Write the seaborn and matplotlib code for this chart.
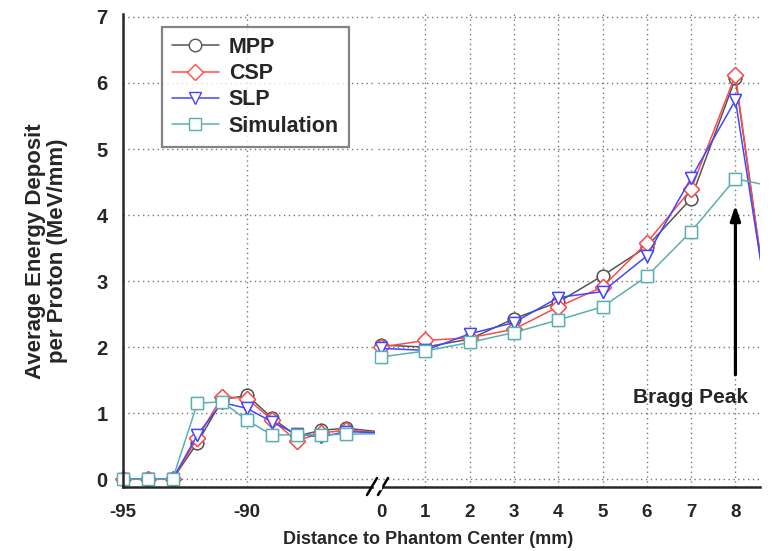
import matplotlib
matplotlib.use("Agg")
import matplotlib.pyplot as plt
import seaborn as sns
import numpy as np

# ---- data ----
left_x = [-95, -94, -93, -92, -91, -90, -89, -88, -87, -86, -84]
mpp_left = [0, 0, 0, 0.55, 1.20, 1.27, 0.93, 0.65, 0.74, 0.77, 0.69]
csp_left = [0, 0, 0, 0.62, 1.25, 1.22, 0.90, 0.58, 0.70, 0.74, 0.69]
slp_left = [0, 0, 0, 0.67, 1.16, 1.07, 0.87, 0.68, 0.64, 0.72, 0.69]
sim_left = [0, 0, 0, 1.15, 1.17, 0.89, 0.67, 0.67, 0.67, 0.68, 0.69]

right_x = [0, 1, 2, 3, 4, 5, 6, 7, 8, 9]
mpp_right = [2.03, 2.00, 2.12, 2.43, 2.68, 3.08, 3.52, 4.25, 6.07, 1.30]
csp_right = [2.00, 2.10, 2.14, 2.27, 2.61, 2.91, 3.58, 4.39, 6.12, 1.20]
slp_right = [1.98, 1.95, 2.20, 2.37, 2.75, 2.84, 3.38, 4.56, 5.74, 1.47]
sim_right = [1.85, 1.94, 2.07, 2.22, 2.41, 2.61, 3.07, 3.75, 4.55, 4.41]

labels = ["MPP", "CSP", "SLP", "Simulation"]
colors = ["#555555", "#ff4a4a", "#4545ff", "#5aafaf"]
markers = ["o", "D", "v", "s"]
msizes = [9, 8, 9, 8]

sns.set_style("white")
plt.rcParams["font.family"] = ["Liberation Sans", "DejaVu Sans"]
plt.rcParams["font.weight"] = "bold"
plt.rcParams["axes.unicode_minus"] = False

fig = plt.figure(figsize=(7.74, 5.51), dpi=100)
W, H = 774.0, 551.0
bot = (H - 487) / H
top = (H - 14) / H
axL = fig.add_axes([123 / W, bot, (375 - 123) / W, top - bot])
axR = fig.add_axes([378 / W, bot, (760 - 378) / W, top - bot])

ylim = (-0.12, 7.045)
left_series = [mpp_left, csp_left, slp_left, sim_left]
right_series = [mpp_right, csp_right, slp_right, sim_right]

for i in range(4):
    mk = dict(marker=markers[i], markersize=msizes[i], markerfacecolor="white",
              markeredgecolor=colors[i], markeredgewidth=1.0)
    # left segment: clipped line + unclipped markers on the visible points
    sns.lineplot(x=left_x, y=left_series[i], ax=axL, color=colors[i], linewidth=1.1,
                 label=labels[i], markevery=list(range(10)), sort=False, **mk)
    sns.lineplot(x=left_x[:10], y=left_series[i][:10], ax=axL, color=colors[i],
                 linestyle="", legend=False, sort=False, clip_on=False, **mk)
    # right segment
    sns.lineplot(x=right_x, y=right_series[i], ax=axR, color=colors[i], linewidth=1.1,
                 legend=False, markevery=list(range(9)), sort=False, **mk)
    sns.lineplot(x=right_x[:9], y=right_series[i][:9], ax=axR, color=colors[i],
                 linestyle="", legend=False, sort=False, clip_on=False, **mk)

axL.set_xlim(-95, -84.84)
axR.set_xlim(-0.068, 8.555)
for ax in (axL, axR):
    ax.set_ylim(*ylim)
    ax.set_xlabel("")
    ax.set_ylabel("")
    ax.spines["top"].set_visible(False)
    ax.spines["right"].set_visible(False)
    ax.spines["bottom"].set_linewidth(1.8)
    ax.spines["left"].set_linewidth(1.8)
    ax.grid(True, which="major", linestyle=(0, (1, 2.5)), color="#777777", linewidth=1.0)
    ax.set_axisbelow(True)
    ax.tick_params(axis="both", which="major", direction="out", length=7, width=1.8,
                   color="black")
    ax.tick_params(axis="x", which="major", labelsize=13.5, pad=5)
    ax.tick_params(axis="y", which="major", labelsize=14.5, pad=4)
    ax.tick_params(axis="both", which="minor", direction="out", length=4, width=1.5, color="black")
    ax.patch.set_alpha(0)

axL.set_xticks([-95, -90])
axL.set_xticks([-92.5, -87.5], minor=True)
axL.set_yticks(range(8))
axL.set_yticks(np.arange(0.5, 7, 1.0), minor=True)
axL.get_xgridlines()[0].set_visible(False)

axR.spines["left"].set_visible(False)
axR.set_xticks(range(9))
axR.set_yticks(range(8))
axR.tick_params(axis="y", which="both", left=False, labelleft=False)
axR.get_xgridlines()[0].set_visible(False)

for ax in (axL, axR):
    for t in ax.get_xticklabels() + ax.get_yticklabels():
        t.set_fontweight("bold")

# axis break marks
for xp in (372, 383):
    fig.add_artist(plt.Line2D([(xp - 5) / W, (xp + 5) / W], [(H - 495) / H, (H - 478) / H],
                              color="black", linewidth=1.8))
fig.add_artist(plt.Rectangle((374 / W, (H - 489) / H), 7 / W, 4 / H, color="white",
                             transform=fig.transFigure, zorder=5))

# arrow and annotation
axR.annotate("", xy=(8, 4.15), xytext=(8, 1.58),
             arrowprops=dict(arrowstyle="-|>,head_length=0.9,head_width=0.3",
                             lw=2.3, color="black", shrinkA=0, shrinkB=0))
axR.text(6.98, 1.23, "Bragg Peak", ha="center", va="center", fontsize=15, fontweight="bold")

leg = axL.legend(loc="upper left", bbox_to_anchor=(162 / W, (H - 27) / H),
                 bbox_transform=fig.transFigure, frameon=True, fancybox=False,
                 borderaxespad=0, handlelength=2.2, labelspacing=0.25, borderpad=0.45,
                 handletextpad=0.45, prop={"weight": "bold", "size": 15.5})
leg.get_frame().set_edgecolor("#666666")
leg.get_frame().set_linewidth(1.6)

fig.text(428 / W, (H - 540) / H, "Distance to Phantom Center (mm)", ha="center", va="center",
         fontsize=13, fontweight="bold")
fig.text(46.5 / W, (H - 251) / H, "Average Energy Deposit\nper Proton (MeV/mm)", ha="center",
         va="center", rotation=90, fontsize=16, fontweight="bold", linespacing=1.05)

fig.savefig("out.png", dpi=100)
